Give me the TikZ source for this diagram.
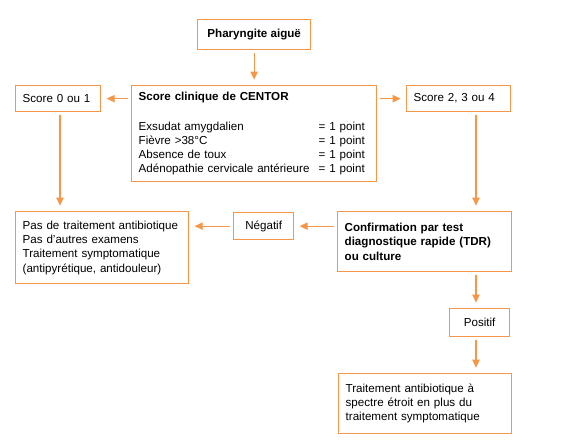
\documentclass[tikz,border=0pt]{standalone}
\usepackage{fontspec}
\setmainfont{Liberation Sans}
\usepackage{xcolor}
\usepackage{tikz}
\usetikzlibrary{arrows.meta, positioning}
\definecolor{centororange}{RGB}{245,150,72}

\begin{document}
\begin{tikzpicture}[
    x=0.75pt, y=-0.75pt,
    font=\fontsize{8.7}{10.7}\selectfont,
    box/.style={rectangle, draw=centororange, line width=1pt, anchor=north west, align=left, inner xsep=5.25pt, inner ysep=2pt},
    smallbox/.style={box, align=center, inner xsep=0pt},
    arrow/.style={draw=centororange, line width=0.9pt, -{Triangle[length=6pt,width=5.5pt]}, shorten <=2.25pt, shorten >=4pt}
]
\useasboundingbox (0,0) rectangle (565,445);

\coordinate (lcol) at (60,0);
\coordinate (rcol) at (476,0);

\node (pharyngite) [smallbox, minimum width=84.75pt, minimum height=22.5pt] at (197,19) {\textbf{Pharyngite aiguë}};
\node (centor) [box, text width=173.25pt, minimum height=72pt] at (131,85) {\textbf{Score clinique de CENTOR}\\[11.5pt]
    \makebox[135pt][l]{Exsudat amygdalien}= 1 point\\
    \makebox[135pt][l]{Fièvre >38°C}= 1 point\\
    \makebox[135pt][l]{Absence de toux}= 1 point\\
    \makebox[135pt][l]{Adénopathie cervicale antérieure}= 1 point};
\node (score0) [box, text width=53.25pt, minimum height=19.5pt] at (15,85) {Score 0 ou 1};
\node (score2) [box, text width=67.5pt, minimum height=19.5pt] at (406,85) {Score 2, 3 ou 4};
\node (pasatb) [box, text width=119.25pt, minimum height=54pt] at (15,211) {Pas de traitement antibiotique\\ Pas d’autres examens\\ Traitement symptomatique\\ (antipyrétique, antidouleur)};
\node (negatif) [smallbox, minimum width=45pt, minimum height=20.25pt] at (233,212) {Négatif};
\node (confirm) [box, text width=120pt, minimum height=45pt] at (337,211) {\textbf{Confirmation par test}\\ \textbf{diagnostique rapide (TDR)}\\ \textbf{ou culture}};
\node (positif) [smallbox, minimum width=45pt, minimum height=21pt] at (449,308) {Positif};
\node (atb) [box, text width=119.25pt, minimum height=45pt] at (338,373) {Traitement antibiotique à\\ spectre étroit en plus du\\ traitement symptomatique};

\draw [arrow] (pharyngite) -- (centor);
\draw [arrow] (centor.west |- score0) -- (score0.east);
\draw [arrow] (centor.east |- score2) -- (score2.west);
\draw [arrow] (score0.south -| lcol) -- (pasatb.north -| lcol);
\draw [arrow] (score2.south -| rcol) -- (confirm.north -| rcol);
\draw [arrow] (confirm.west |- negatif) -- (negatif.east);
\draw [arrow] (negatif.west) -- (pasatb.east |- negatif);
\draw [arrow] (confirm.south -| rcol) -- (positif.north -| rcol);
\draw [arrow] (positif.south -| rcol) -- (atb.north -| rcol);

\end{tikzpicture}
\end{document}
